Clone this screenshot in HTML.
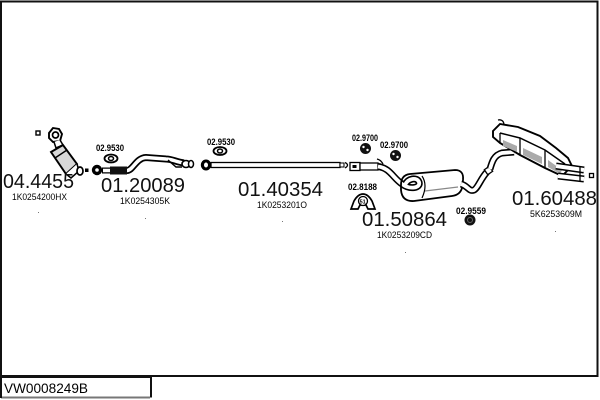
<!DOCTYPE html>
<html>
<head>
<meta charset="utf-8">
<style>
  html,body{margin:0;padding:0;background:#fff;}
  body{width:600px;height:400px;overflow:hidden;}
  svg{display:block;}
  text{font-family:"Liberation Sans", Arial, sans-serif;}
</style>
</head>
<body>
<svg width="600" height="400" viewBox="0 0 600 400" xmlns="http://www.w3.org/2000/svg">
  <!-- frame -->
  <rect x="1" y="1.5" width="596.5" height="374.5" fill="#fff" stroke="#111" stroke-width="2"/>
  <!-- title box -->
  <path d="M1,377 L151,377 L151,397.5" fill="none" stroke="#111" stroke-width="2"/>
  <path d="M1,397.5 L150,397.5" fill="none" stroke="#777" stroke-width="2"/>
  <path d="M1,376 L1,398" fill="none" stroke="#111" stroke-width="2"/>
  <text x="4" y="393" font-size="14" fill="#000" textLength="84" lengthAdjust="spacingAndGlyphs">VW0008249B</text>

  <!-- ============ CATALYST 04.4455 ============ -->
  <rect x="36" y="131" width="4" height="4" fill="none" stroke="#000" stroke-width="1.4"/>
  <path d="M49,133 L53,128 L59,129 L62,134 L60,141 L53,142 L49,138 Z" fill="#fff" stroke="#000" stroke-width="1.9"/>
  <circle cx="55.5" cy="135" r="3" fill="none" stroke="#000" stroke-width="1.7"/>
  <path d="M54,142 L56,148 L63,145 L60,140" fill="#fff" stroke="#000" stroke-width="1.5"/>
  <path d="M51,152 L63,145 L77,164 L66,174 Z" fill="#d8d8d8" stroke="#000" stroke-width="1.9"/>
  <path d="M55,158 L67,150" stroke="#000" stroke-width="1.4"/>
  <path d="M66,174 L71,178 L79,171 L77,164" fill="#fff" stroke="#000" stroke-width="1.5"/>
  <ellipse cx="80" cy="171" rx="3" ry="4" fill="#fff" stroke="#000" stroke-width="1.7"/>
  <rect x="85" y="168.5" width="3.5" height="3.5" fill="#000"/>

  <!-- ============ FLEX PIPE 01.20089 ============ -->
  <circle cx="97" cy="170" r="5.2" fill="#000"/>
  <circle cx="97" cy="170" r="1.8" fill="#fff"/>
  <path d="M102,170.5 L110,170.5" stroke="#000" stroke-width="6"/>
  <path d="M103,170.5 L110,170.5" stroke="#fff" stroke-width="3.5"/>
  <rect x="110" y="166.5" width="17" height="8" fill="#111"/>
  <path d="M127,170.5 C133,170.5 136,158 146,157.5 L166,159 C172,159 176,162 184,163" fill="none" stroke="#000" stroke-width="7"/>
  <path d="M127,170.5 C133,170.5 136,158 146,157.5 L166,159 C172,159 176,162 184,163" fill="none" stroke="#fff" stroke-width="3.5"/>
  <path d="M168,160 L176,167 L182,167" fill="none" stroke="#000" stroke-width="1.4"/>
  <ellipse cx="186" cy="164" rx="4" ry="3.5" fill="#fff" stroke="#000" stroke-width="1.6"/>
  <ellipse cx="191" cy="164" rx="2.5" ry="3.5" fill="#fff" stroke="#000" stroke-width="1.5"/>
  <!-- gasket 02.9530 -->
  <ellipse cx="111" cy="158.5" rx="6.5" ry="4" fill="#fff" stroke="#000" stroke-width="1.8"/>
  <ellipse cx="111" cy="158.5" rx="2.5" ry="2" fill="#fff" stroke="#000" stroke-width="1.5"/>

  <!-- ============ PIPE 01.40354 ============ -->
  <ellipse cx="206" cy="165" rx="5.2" ry="5.5" fill="#000"/>
  <ellipse cx="206" cy="165" rx="2" ry="2.5" fill="#fff"/>
  <rect x="211" y="162.5" width="129" height="5" fill="#fff" stroke="#000" stroke-width="1.3"/>
  <rect x="340" y="163" width="4" height="4" fill="#fff" stroke="#000" stroke-width="1"/>
  <!-- gasket 02.9530 -->
  <ellipse cx="220" cy="151" rx="6.5" ry="4" fill="#fff" stroke="#000" stroke-width="1.8"/>
  <ellipse cx="220" cy="151" rx="2.5" ry="2" fill="#fff" stroke="#000" stroke-width="1.5"/>

  <!-- ============ CENTER MUFFLER 01.50864 ============ -->
  <path d="M345,162.5 Q350,165 345,168" fill="none" stroke="#000" stroke-width="1.3"/>
  <rect x="350" y="162.5" width="10" height="8" fill="#fff" stroke="#000" stroke-width="1.3"/>
  <rect x="352.5" y="165" width="4" height="3" fill="#000"/>
  <rect x="360" y="163" width="18" height="7" fill="#fff" stroke="#000" stroke-width="1.3"/>
  <path d="M377,159 Q381,160 383,164" fill="none" stroke="#000" stroke-width="1.3"/>
  <path d="M378,166.5 C390,168 393,178 402,184 C410,190 421,188 419,182 C417,177 408,178 405,185" fill="none" stroke="#000" stroke-width="7"/>
  <path d="M378,166.5 C390,168 393,178 402,184 C410,190 421,188 419,182 C417,177 408,178 405,185" fill="none" stroke="#fff" stroke-width="3.8"/>
  <path d="M410,174 L455,170 Q464,170 463,180 L462,188 Q460,195 452,196 L414,201 Q402,202 401,190 L401,185 Q401,175 410,174 Z" fill="none" stroke="#000" stroke-width="1.8"/>
  <path d="M425,191 L458,187" stroke="#888" stroke-width="1.2"/>
  <path d="M422,176 Q428,185 422,198" fill="none" stroke="#000" stroke-width="1.2"/>
  <!-- outlet pipe -->
  <path d="M461,184 C468,186 469,192 474,190 C478,188 481,178 487,172" fill="none" stroke="#000" stroke-width="7"/>
  <path d="M461,184 C468,186 469,192 474,190 C478,188 481,178 487,172" fill="none" stroke="#fff" stroke-width="3.8"/>
  <!-- hangers 02.9700 -->
  <circle cx="365.5" cy="148.5" r="5.5" fill="#111"/>
  <circle cx="363.5" cy="147" r="1.2" fill="#fff"/>
  <circle cx="367.5" cy="150" r="1.2" fill="#fff"/>
  <circle cx="395.5" cy="155.5" r="5.5" fill="#111"/>
  <circle cx="393.5" cy="154" r="1.2" fill="#fff"/>
  <circle cx="397.5" cy="157" r="1.2" fill="#fff"/>
  <!-- hanger 02.8188 -->
  <path d="M351,209 L354,201 Q358,194 363,194 Q368,194 372,201 L375,209 L368,209 L366,205 L360,205 L358,209 Z" fill="#fff" stroke="#000" stroke-width="1.7"/>
  <circle cx="363" cy="201" r="4.5" fill="#fff" stroke="#000" stroke-width="1.3"/>
  <text x="359.6" y="203.5" font-size="5.5" font-weight="bold" fill="#000">51</text>
  <!-- hanger 02.9559 -->
  <circle cx="470" cy="220" r="5.5" fill="#111"/>
  <circle cx="470" cy="220" r="2.5" fill="none" stroke="#666" stroke-width="1"/>

  <!-- ============ REAR MUFFLER 01.60488 ============ -->
  <rect x="485.5" y="167.5" width="6" height="6" fill="#fff" stroke="#000" stroke-width="1.3" transform="rotate(-35 488.5 170.5)"/>
  <path d="M490,169 C492,162 494,155 502,153 L514,152" fill="none" stroke="#000" stroke-width="7"/>
  <path d="M490,169 C492,162 494,155 502,153 L514,152" fill="none" stroke="#fff" stroke-width="3.8"/>
  <path d="M493,131 L500,124 L518,127 L540,136 L556,148 L568,158 L572,166 L562,176 L545,168 L520,155 L500,143 L493,137 Z" fill="#fff" stroke="#000" stroke-width="1.9"/>
  <path d="M500,133 L520,138 L545,150 L565,164" fill="none" stroke="#000" stroke-width="1.5"/>
  <path d="M500,133 L500,143" stroke="#000" stroke-width="1.3"/>
  <path d="M520,138 L520,155" stroke="#000" stroke-width="1.3"/>
  <path d="M545,150 L545,168" stroke="#000" stroke-width="1.3"/>
  <path d="M503,140 L517,146 L517,152 L503,146 Z" fill="#aaa"/>
  <path d="M523,148 L542,157 L542,164 L523,155 Z" fill="#aaa"/>
  <path d="M548,160 L562,170 L560,174 L548,167 Z" fill="#aaa"/>
  <path d="M504,124 Q503,119 498,120" fill="none" stroke="#000" stroke-width="1.3"/>
  <!-- tail pipes -->
  <path d="M556,166 L584,170" stroke="#000" stroke-width="7"/>
  <path d="M556,166 L584,170" stroke="#fff" stroke-width="4"/>
  <path d="M558,176 L584,179" stroke="#000" stroke-width="7"/>
  <path d="M558,176 L584,179" stroke="#fff" stroke-width="4"/>
  <path d="M580,166 L580,182" stroke="#000" stroke-width="1.3"/>
  <rect x="589.5" y="173.5" width="4" height="4" fill="#fff" stroke="#000" stroke-width="1.3"/>

  <!-- tiny dots -->
  <rect x="38" y="212" width="1" height="1" fill="#777"/>
  <rect x="145" y="218" width="1" height="1" fill="#777"/>
  <rect x="282" y="221" width="1" height="1" fill="#777"/>
  <rect x="405" y="252" width="1" height="1" fill="#777"/>
  <rect x="555" y="231" width="1" height="1" fill="#777"/>

  <!-- ============ LABELS ============ -->
  <text x="3" y="188" font-size="20" fill="#111" textLength="71" lengthAdjust="spacingAndGlyphs">04.4455</text>
  <text x="12" y="200" font-size="9.5" fill="#000" textLength="55" lengthAdjust="spacingAndGlyphs">1K0254200HX</text>

  <text x="101" y="192" font-size="20" fill="#111" textLength="84" lengthAdjust="spacingAndGlyphs">01.20089</text>
  <text x="120" y="204" font-size="9.5" fill="#000" textLength="50" lengthAdjust="spacingAndGlyphs">1K0254305K</text>
  <text x="96" y="151" font-size="9.5" font-weight="bold" fill="#000" textLength="28" lengthAdjust="spacingAndGlyphs">02.9530</text>

  <text x="207" y="145" font-size="9.5" font-weight="bold" fill="#000" textLength="28" lengthAdjust="spacingAndGlyphs">02.9530</text>
  <text x="238" y="196" font-size="20" fill="#111" textLength="85" lengthAdjust="spacingAndGlyphs">01.40354</text>
  <text x="257" y="208" font-size="9.5" fill="#000" textLength="50" lengthAdjust="spacingAndGlyphs">1K0253201O</text>

  <text x="352" y="141" font-size="9.5" font-weight="bold" fill="#000" textLength="26" lengthAdjust="spacingAndGlyphs">02.9700</text>
  <text x="380" y="148" font-size="9.5" font-weight="bold" fill="#000" textLength="28" lengthAdjust="spacingAndGlyphs">02.9700</text>
  <text x="348" y="190" font-size="9.5" font-weight="bold" fill="#000" textLength="29" lengthAdjust="spacingAndGlyphs">02.8188</text>
  <text x="362" y="226" font-size="20" fill="#111" textLength="85" lengthAdjust="spacingAndGlyphs">01.50864</text>
  <text x="377" y="238" font-size="9.5" fill="#000" textLength="55" lengthAdjust="spacingAndGlyphs">1K0253209CD</text>
  <text x="456" y="214" font-size="9.5" font-weight="bold" fill="#000" textLength="30" lengthAdjust="spacingAndGlyphs">02.9559</text>

  <text x="512" y="205" font-size="20" fill="#111" textLength="85" lengthAdjust="spacingAndGlyphs">01.60488</text>
  <text x="530" y="217" font-size="9.5" fill="#000" textLength="52" lengthAdjust="spacingAndGlyphs">5K6253609M</text>
</svg>
</body>
</html>
